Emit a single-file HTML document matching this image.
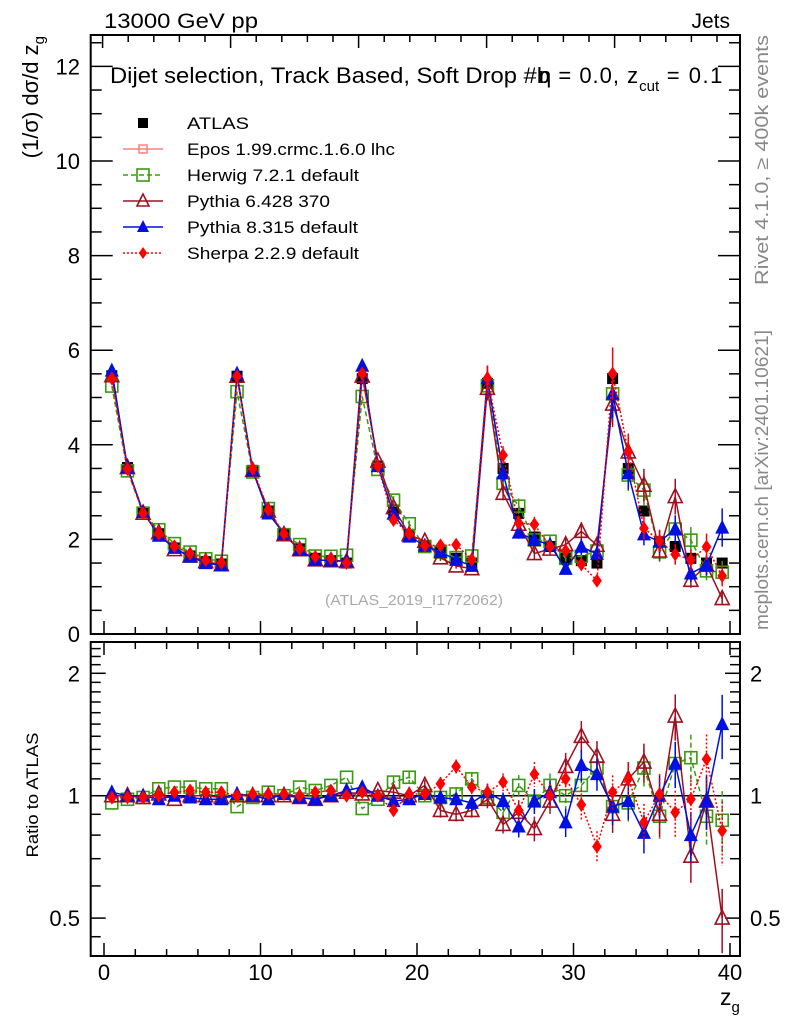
<!DOCTYPE html>
<html><head><meta charset="utf-8"><style>
body{margin:0;background:#fff}
svg{display:block;font-family:"Liberation Sans",sans-serif}
</style></head><body>
<svg id="c" width="786" height="1024" viewBox="0 0 786 1024"></svg>
<script>
const centers=[];for(let i=0;i<40;i++)centers.push(i+0.5);
const atlas=[5.46,3.52,2.58,2.12,1.82,1.65,1.53,1.48,5.45,3.46,2.6,2.1,1.8,1.6,1.55,1.5,5.4,3.55,2.62,2.1,1.85,1.75,1.6,1.5,5.3,3.5,2.55,2.05,1.85,1.6,1.55,1.5,5.4,3.5,2.6,1.95,1.85,1.6,1.5,1.5];
const rHerwig=[0.96,0.98,0.99,1.04,1.05,1.05,1.04,1.04,0.94,0.99,1.02,1.0,1.05,1.03,1.06,1.11,0.93,0.98,1.08,1.11,1.0,0.99,1.01,1.10,0.99,0.91,1.06,0.97,1.06,1.0,1.06,1.17,0.94,0.96,1.17,0.89,1.2,1.24,0.89,0.87];
const rPythia6=[1.0,1.0,0.99,1.01,0.98,1.0,1.0,0.99,1.0,1.0,1.0,1.0,0.99,0.98,1.0,1.02,1.01,1.03,1.02,1.0,1.06,0.92,0.9,0.92,0.98,0.85,0.91,0.83,0.97,1.18,1.4,1.25,0.9,1.1,1.21,0.9,1.57,0.71,0.97,0.5];
const rPythia8=[1.02,1.0,1.0,0.98,1.0,0.99,0.98,0.98,1.01,1.0,0.98,1.01,0.99,0.98,1.0,1.03,1.05,1.0,0.97,0.98,1.01,0.99,0.98,0.96,1.02,0.97,0.84,0.97,1.02,0.86,1.19,1.13,0.94,0.97,0.81,1.0,1.2,0.8,0.97,1.5];
const rSherpa=[0.99,0.99,0.99,1.0,1.02,1.03,1.02,1.02,1.0,1.01,1.01,1.01,1.0,1.02,1.03,1.0,1.02,1.0,0.92,1.01,1.01,1.07,1.18,1.05,1.02,1.08,0.92,1.13,1.0,1.1,0.95,0.75,1.02,1.1,0.86,1.01,0.91,0.98,1.23,0.82];
const mcErr=[0.01,0.01,0.01,0.01,0.01,0.01,0.01,0.01,0.01,0.01,0.01,0.01,0.015,0.015,0.015,0.015,0.02,0.02,0.03,0.03,0.03,0.04,0.04,0.04,0.05,0.05,0.06,0.07,0.07,0.08,0.09,0.09,0.1,0.1,0.11,0.12,0.13,0.14,0.15,0.18];
const xTicks=[0,10,20,30,40];
const yTicks=[0,2,4,6,8,10,12];
const rTicks=[0.5,1,2];

const NS="http://www.w3.org/2000/svg";
const svg=document.getElementById('c');
function el(t,a,p){const e=document.createElementNS(NS,t);for(const k in a)e.setAttribute(k,a[k]);(p||svg).appendChild(e);return e;}
const L=90.7,R=740,MT=35,MB=634,RT=642,RB=956;
const X=v=>104+15.65*v;
const Y=v=>634-47.3*v;
const RY=r=>795.7-176.6*Math.log(r);

const f1=el('rect',{x:L,y:MT,width:R-L,height:MB-MT,fill:'none',stroke:'#000','stroke-width':2});


const f2=el('rect',{x:L,y:RT,width:R-L,height:RB-RT,fill:'none',stroke:'#000','stroke-width':2});



for(let v=0;v<=40;v+=2){const maj=v%10===0;const len=maj?13:7;
 el('line',{x1:X(v),x2:X(v),y1:MB,y2:MB-len,stroke:'#000','stroke-width':1.5});
 el('line',{x1:X(v),x2:X(v),y1:RB,y2:RB-len,stroke:'#000','stroke-width':1.5});
 el('line',{x1:X(v),x2:X(v),y1:RT,y2:RT+len,stroke:'#000','stroke-width':1.5});}
for(let i=0;i<26;i++){const px=102.6+25.6*i;if(px>R)break;const maj=i%5===0;
 el('line',{x1:px,x2:px,y1:MT,y2:MT+(maj?13:7),stroke:'#000','stroke-width':1.5});}
xTicks.forEach(v=>{const t=el('text',{x:X(v),y:980,'font-size':22,'text-anchor':'middle'});t.textContent=v;
 
 });
for(let v=0;v<=12.5;v+=0.5){const maj=v%2===0;const len=maj?22:11;
 el('line',{x1:L,x2:L+len,y1:Y(v),y2:Y(v),stroke:'#000','stroke-width':1.5});
 el('line',{x1:R,x2:R-len,y1:Y(v),y2:Y(v),stroke:'#000','stroke-width':1.5});}
yTicks.forEach(v=>{const t=el('text',{x:80,y:Y(v)+8,'font-size':22,'text-anchor':'end'});t.textContent=v;
 
 });
const rMin=[0.45,0.6,0.7,0.8,0.9,1.1,1.2,1.3,1.4,1.5,1.6,1.7,1.8,1.9,2.1,2.2,2.3];
rMin.forEach(r=>{const y=RY(r);if(y<RT||y>RB)return;
 el('line',{x1:L,x2:L+10,y1:y,y2:y,stroke:'#000','stroke-width':1.5});
 el('line',{x1:R,x2:R-10,y1:y,y2:y,stroke:'#000','stroke-width':1.5});});
rTicks.forEach(r=>{const y=RY(r);
 el('line',{x1:L,x2:L+15,y1:y,y2:y,stroke:'#000','stroke-width':1.5});
 el('line',{x1:R,x2:R-15,y1:y,y2:y,stroke:'#000','stroke-width':1.5});
 const t=el('text',{x:80,y:y+8,'font-size':22,'text-anchor':'end'});t.textContent=r;
 
 
 const t2=el('text',{x:750,y:y+8,'font-size':22});t2.textContent=r;
 
 });
el('line',{x1:L,x2:R,y1:RY(1),y2:RY(1),stroke:'#000','stroke-width':1.5});

function marker(g,type,x,y,col,s){
 if(type==='sq')el('rect',{x:x-s,y:y-s,width:2*s,height:2*s,fill:'none',stroke:col,'stroke-width':1.6},g);
 else if(type==='fsq')el('rect',{x:x-s,y:y-s,width:2*s,height:2*s,fill:col},g);
 else if(type==='tri')el('polygon',{points:`${x},${y-s-1} ${x-s},${y+s-1} ${x+s},${y+s-1}`,fill:'none',stroke:col,'stroke-width':1.6},g);
 else if(type==='ftri')el('polygon',{points:`${x},${y-s-1} ${x-s},${y+s-1} ${x+s},${y+s-1}`,fill:col},g);
 else if(type==='dia')el('polygon',{points:`${x},${y-s} ${x-s*0.7},${y} ${x},${y+s} ${x+s*0.7},${y}`,fill:col},g);
}
const ga=el('g',{});


centers.forEach((c,i)=>marker(ga,'fsq',X(c),Y(atlas[i]),'#000',5.5));

const series=[
 {name:'herwig',r:rHerwig,col:'#3a9a10',dash:'5,3',m:'sq',s:6},
 {name:'pythia6',r:rPythia6,col:'#a01020',dash:'',m:'tri',s:7},
 {name:'pythia8',r:rPythia8,col:'#0010e0',dash:'',m:'ftri',s:7},
 {name:'sherpa',r:rSherpa,col:'#ff0000',dash:'2,2',m:'dia',s:7},
];
series.forEach(sr=>{
 const g=el('g',{});
 
 
 const gr=el('g',{});
 
 
 let p1='',p2='';
 centers.forEach((c,i)=>{const v=atlas[i]*sr.r[i];p1+=(i?'L':'M')+X(c)+','+Y(v);p2+=(i?'L':'M')+X(c)+','+RY(sr.r[i]);});
 el('path',{d:p1,fill:'none',stroke:sr.col,'stroke-width':1.5,'stroke-dasharray':sr.dash},g);
 el('path',{d:p2,fill:'none',stroke:sr.col,'stroke-width':1.5,'stroke-dasharray':sr.dash},gr);
 centers.forEach((c,i)=>{const v=atlas[i]*sr.r[i];const e=mcErr[i];
  if(e>0.02){el('line',{x1:X(c),x2:X(c),y1:Y(v*(1+e)),y2:Y(v*(1-e)),stroke:sr.col,'stroke-width':1.5},g);
   el('line',{x1:X(c),x2:X(c),y1:RY(sr.r[i]*(1+e)),y2:RY(sr.r[i]*(1-e)),stroke:sr.col,'stroke-width':1.5,'stroke-dasharray':sr.dash},gr);}
  marker(g,sr.m,X(c),Y(v),sr.col,sr.s);marker(gr,sr.m,X(c),RY(sr.r[i]),sr.col,sr.s);});
});

const leg=[['ATLAS','fsq','#000',''],['Epos 1.99.crmc.1.6.0 lhc','epos','#ff8080',''],['Herwig 7.2.1 default','sq','#3a9a10','5,3'],['Pythia 6.428 370','tri','#a01020',''],['Pythia 8.315 default','ftri','#0010e0',''],['Sherpa 2.2.9 default','dia','#ff0000','2,2']];
const legW=[62,208,172,143,171,172];
leg.forEach((l,i)=>{const y=123+26*i;const g=el('g',{});
 
 
 if(i>0)el('line',{x1:123,x2:163,y1:y,y2:y,stroke:l[2],'stroke-width':1.5,'stroke-dasharray':l[3]},g);
 if(l[1]==='epos'){el('rect',{x:139,y:y-4,width:8,height:8,fill:'none',stroke:l[2],'stroke-width':1.5},g);}
 else marker(g,l[1],143,y,l[2],l[1]==='fsq'?5:6);
 const t=el('text',{x:187,y:y+6,'font-size':17,textLength:legW[i],lengthAdjust:'spacingAndGlyphs'},g);t.textContent=l[0];});

function txt(s,a,name){const t=el('text',a);t.textContent=s;return t;}
txt('13000 GeV pp',{x:104,y:28,'font-size':21,textLength:154,lengthAdjust:'spacingAndGlyphs'},'energy-label');
txt('Jets',{x:730,y:28,'font-size':21,'text-anchor':'end'},'process-label');
const tt=txt('',{x:110,y:83,'font-size':22},'plot-title');
tt.innerHTML='<tspan textLength="440" lengthAdjust="spacingAndGlyphs">Dijet selection, Track Based, Soft Drop #b</tspan><tspan dx="-11">η</tspan><tspan letter-spacing="1"> = 0.0, z</tspan><tspan font-size="15" dy="8">cut</tspan><tspan dy="-8" letter-spacing="1.5"> = 0.1</tspan>';
txt('(ATLAS_2019_I1772062)',{x:414,y:605,'font-size':15,fill:'#aaa','text-anchor':'middle',textLength:178,lengthAdjust:'spacingAndGlyphs'},'analysis-id');
txt('Rivet 4.1.0, ≥ 400k events',{x:0,y:0,'font-size':18,fill:'#888','text-anchor':'middle',textLength:250,lengthAdjust:'spacingAndGlyphs',transform:'translate(768,160) rotate(-90)'},'rivet-label');
txt('mcplots.cern.ch [arXiv:2401.10621]',{x:0,y:0,'font-size':18,fill:'#888','text-anchor':'middle',textLength:300,lengthAdjust:'spacingAndGlyphs',transform:'translate(768,480) rotate(-90)'},'mcplots-label');
const yl=txt('',{x:0,y:0,'font-size':22,'text-anchor':'end',transform:'translate(38,36) rotate(-90)'},'y-axis-title');
yl.innerHTML='(1/σ) dσ/d z<tspan font-size="15" dy="6">g</tspan>';
txt('Ratio to ATLAS',{x:0,y:0,'font-size':17,'text-anchor':'middle',textLength:125,lengthAdjust:'spacingAndGlyphs',transform:'translate(38,795) rotate(-90)'},'ratio-axis-title');
const xl=txt('',{x:720,y:1005,'font-size':23},'x-axis-title');
xl.innerHTML='z<tspan font-size="15" dy="7">g</tspan>';
</script>
</body></html>
